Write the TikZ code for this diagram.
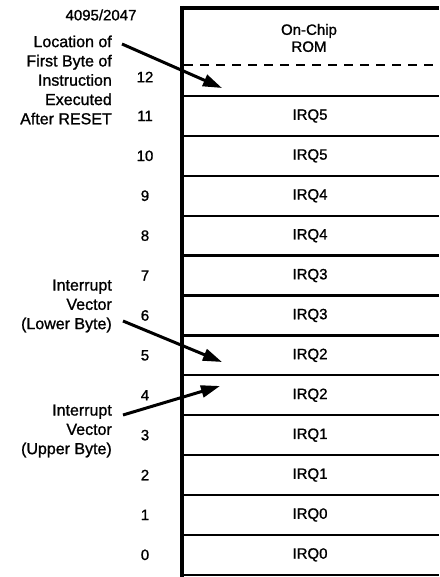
\documentclass[tikz,border=0pt]{standalone}
\usepackage{fontspec}
\setmainfont[FakeBold=1.1]{Liberation Sans}
\usetikzlibrary{arrows.meta}
\begin{document}
\begin{tikzpicture}[x=1pt,y=-1pt,
  lbl/.style={align=right, anchor=east, font=\fontsize{16}{19.3}\selectfont, inner sep=0pt},
  num/.style={font=\fontsize{15}{17}\selectfont, inner sep=0pt},
  cell/.style={font=\fontsize{15}{17}\selectfont, inner sep=0pt},
  rowline/.style={line width=2.3pt},
  ptr/.style={line width=3pt, -{Triangle[length=19pt,width=12pt]}}]
\useasboundingbox (0,0) rectangle (439,577);
% frame
\draw[line width=4pt] (182,8) -- (439,8);
\draw[line width=3.5pt] (182,6) -- (182,577);
\draw[line width=2.6pt, dash pattern=on 9pt off 7pt] (184,65) -- (439,65);
\foreach \k in {0,...,12} {
  \draw[rowline] (182,{96+39.9*\k}) -- (439,{96+39.9*\k});
}
% top texts
\node[num] (addr) at (101,15) {4095/2047};
\node[cell, align=center, font=\fontsize{15}{17}\selectfont] (rom) at (309,38) {On-Chip\\ROM};
\node[num] (n12) at (145,77) {12};
% rows
\foreach \n/\t in {11/IRQ5,10/IRQ5,9/IRQ4,8/IRQ4,7/IRQ3,6/IRQ3,5/IRQ2,4/IRQ2,3/IRQ1,2/IRQ1,1/IRQ0,0/IRQ0} {
  \node[num] (n\n) at (145,{96+39.9*(11-\n)+19.95}) {\n};
  \node[cell] (c\n) at (310,{96+39.9*(11-\n)+19.95}) {\t};
}
% labels
\node[lbl] (reset) at (112,80) {Location of\\First Byte of\\Instruction\\Executed\\After RESET};
\node[lbl] (lower) at (112,306) {Interrupt\\Vector\\(Lower Byte)};
\node[lbl] (upper) at (112,431) {Interrupt\\Vector\\(Upper Byte)};
% arrow ends
\coordinate (t1) at (122,44);
\coordinate (h1) at (222,88);
\coordinate (t2) at (123,321);
\coordinate (h2) at (222,362);
\coordinate (t3) at (123,415);
\coordinate (h3) at (220,386);
\draw[ptr] (t1) -- (h1);
\draw[ptr] (t2) -- (h2);
\draw[ptr] (t3) -- (h3);
\end{tikzpicture}
\end{document}
